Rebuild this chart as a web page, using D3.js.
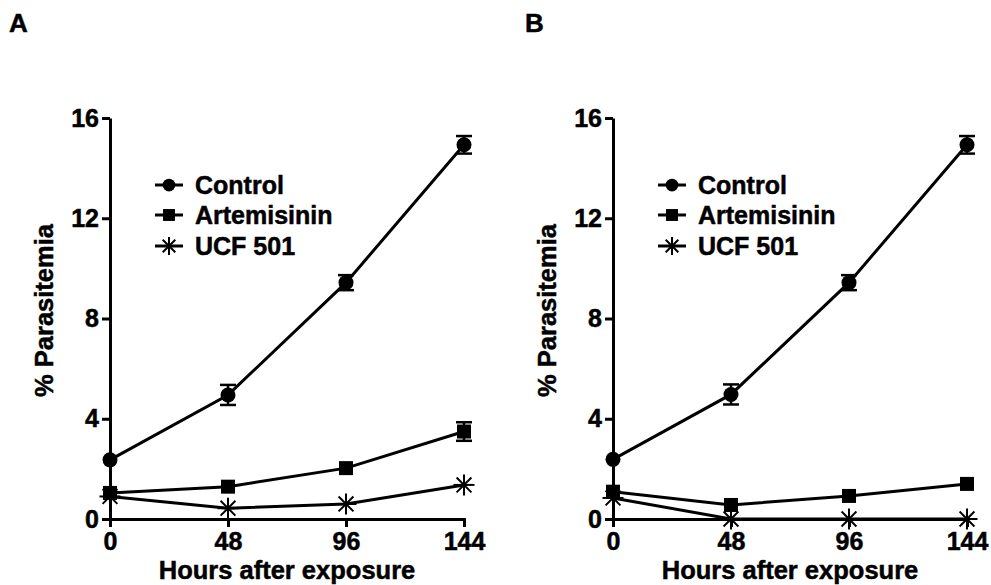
<!DOCTYPE html>
<html>
<head>
<meta charset="utf-8">
<script src="https://cdn.jsdelivr.net/npm/d3@7"></script>
<style>
  html, body { margin: 0; padding: 0; background: #fff; }
  svg text { font-family: "Liberation Sans", Arial, sans-serif; font-weight: bold; fill: #000; stroke: #000; stroke-width: 0.5px; }
</style>
</head>
<body>
<svg id="chart" width="991" height="585"></svg>
<script>
// ---- Data ----
const hours = [0, 48, 96, 144];
const yTicks = [0, 4, 8, 12, 16];
const seriesNames = ["Control", "Artemisinin", "UCF 501"];
const panelLabels = ["A", "B"];

const controlA = [2.36, 4.95, 9.43, 14.93];
const controlErrA = [0, 0.4, 0.3, 0.35];
const artemisininA = [1.04, 1.29, 2.03, 3.49];
const artemisininErrA = [0, 0, 0, 0.37];
const ucfA = [0.9, 0.43, 0.6, 1.36];
const ucfErrA = [0, 0, 0, 0];

const controlB = [2.38, 4.97, 9.43, 14.93];
const controlErrB = [0, 0.4, 0.3, 0.35];
const artemisininB = [1.09, 0.56, 0.92, 1.4];
const artemisininErrB = [0, 0, 0, 0];
const ucfB = [0.84, 0, 0, 0];
const ucfErrB = [0, 0, 0, 0];

const xLabel = "Hours after exposure";
const yLabel = "% Parasitemia";

// ---- Drawing ----
const svg = d3.select("#chart");

const panels = [
  { label: panelLabels[0], x0: 110, labelX: 9,
    series: [
      { name: seriesNames[0], values: controlA, errs: controlErrA, shape: "circle" },
      { name: seriesNames[1], values: artemisininA, errs: artemisininErrA, shape: "square" },
      { name: seriesNames[2], values: ucfA, errs: ucfErrA, shape: "star" }
    ] },
  { label: panelLabels[1], x0: 613, labelX: 525,
    series: [
      { name: seriesNames[0], values: controlB, errs: controlErrB, shape: "circle" },
      { name: seriesNames[1], values: artemisininB, errs: artemisininErrB, shape: "square" },
      { name: seriesNames[2], values: ucfB, errs: ucfErrB, shape: "star" }
    ] }
];

const plotW = 354, yTop = 118, yBot = 519;
const SW = 3;

function drawMarker(g, shape, cx, cy, scale) {
  const s = scale || 1;
  if (shape === "circle") {
    g.append("circle").attr("cx", cx).attr("cy", cy).attr("r", 7.5 * s).attr("fill", "#000");
  } else if (shape === "square") {
    const h = 7 * s;
    g.append("rect").attr("x", cx - h).attr("y", cy - h).attr("width", 2 * h).attr("height", 2 * h).attr("fill", "#000");
  } else {
    const r = 10.5 * s, d = r * Math.SQRT1_2;
    const segs = [[0, -r, 0, r], [-r, 0, r, 0], [-d, -d, d, d], [-d, d, d, -d]];
    segs.forEach(q => g.append("line")
      .attr("x1", cx + q[0]).attr("y1", cy + q[1]).attr("x2", cx + q[2]).attr("y2", cy + q[3])
      .attr("stroke", "#000").attr("stroke-width", 2));
  }
}

panels.forEach(p => {
  const x = d3.scaleLinear().domain([0, 144]).range([p.x0, p.x0 + plotW]);
  const y = d3.scaleLinear().domain([0, 16]).range([yBot, yTop]);
  const g = svg.append("g");

  // Panel letter
  g.append("text").attr("x", p.labelX).attr("y", 32).attr("font-size", 26).text(p.label);

  // Axes
  const ax = g.append("g").attr("transform", `translate(0,${yBot})`)
    .call(d3.axisBottom(x).tickValues(hours).tickSize(8).tickSizeOuter(0).tickPadding(5));
  const ay = g.append("g").attr("transform", `translate(${p.x0},0)`)
    .call(d3.axisLeft(y).tickValues(yTicks).tickSize(8).tickSizeOuter(0).tickPadding(3));
  [ax, ay].forEach(a => {
    a.select(".domain").attr("stroke", "#000").attr("stroke-width", SW);
    a.selectAll(".tick line").attr("stroke", "#000").attr("stroke-width", SW);
    a.selectAll(".tick text").attr("font-size", 25).attr("font-family", "Liberation Sans, Arial, sans-serif")
      .attr("font-weight", "bold").attr("fill", "#000");
  });
  ax.select(".domain").attr("stroke-linecap", "square");

  // Axis titles
  g.append("text").attr("x", p.x0 + plotW / 2).attr("y", 579).attr("text-anchor", "middle")
    .attr("font-size", 25.5).text(xLabel);
  g.append("text").attr("transform", `translate(${p.x0 - 66},${(yTop + yBot) / 2 - 8}) rotate(-90)`)
    .attr("text-anchor", "middle").attr("dy", "0.35em").attr("font-size", 25.5).text(yLabel);

  // Series
  const line = d3.line().x((d, i) => x(hours[i])).y(d => y(d));
  p.series.slice().reverse().forEach(s => {
    g.append("path").datum(s.values).attr("d", line)
      .attr("fill", "none").attr("stroke", "#000").attr("stroke-width", SW);
  });
  p.series.forEach(s => {
    s.values.forEach((v, i) => {
      const e = s.errs[i];
      if (e > 0) {
        const cx = x(hours[i]);
        g.append("line").attr("x1", cx).attr("x2", cx).attr("y1", y(v - e)).attr("y2", y(v + e))
          .attr("stroke", "#000").attr("stroke-width", 2.5);
        [v - e, v + e].forEach(yv => g.append("line")
          .attr("x1", cx - 8).attr("x2", cx + 8).attr("y1", y(yv)).attr("y2", y(yv))
          .attr("stroke", "#000").attr("stroke-width", 2.5));
      }
      drawMarker(g, s.shape, x(hours[i]), y(v));
    });
  });

  // Legend
  const lx = p.x0 + 45;
  const rows = [185, 215, 246];
  p.series.forEach((s, k) => {
    const ly = rows[k];
    g.append("line").attr("x1", lx).attr("x2", lx + 28).attr("y1", ly).attr("y2", ly)
      .attr("stroke", "#000").attr("stroke-width", SW);
    drawMarker(g, s.shape, lx + 14, ly, 0.85);
    g.append("text").attr("x", lx + 40).attr("y", ly).attr("dy", "0.35em")
      .attr("font-size", 25).text(s.name);
  });
});
</script>
</body>
</html>
